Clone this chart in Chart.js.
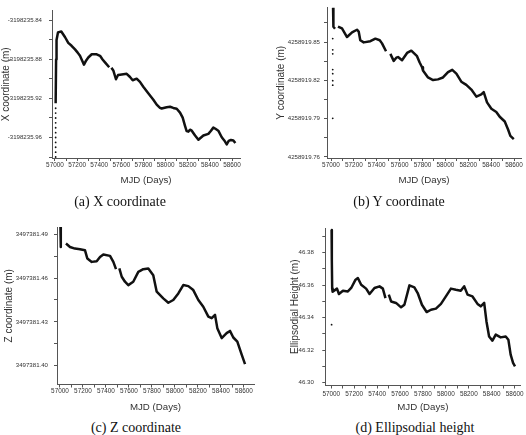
<!DOCTYPE html>
<html>
<head>
<meta charset="utf-8">
<title>GNSS station coordinates</title>
<script src="https://cdn.jsdelivr.net/npm/chart.js@4.4.0/dist/chart.umd.min.js"></script>
<style>
  html, body { margin: 0; padding: 0; background: #fff; }
  body { width: 526px; height: 435px; position: relative; overflow: hidden; }
  canvas { position: absolute; }
  .caption {
    position: absolute;
    font-family: 'Liberation Serif', 'Times New Roman', serif;
    font-size: 14px;
    color: #111;
    white-space: nowrap;
    transform: translate(-50%, -50%);
  }
</style>
</head>
<body>
<canvas id="chartX" width="263" height="195" style="left:0;top:0"></canvas>
<canvas id="chartY" width="263" height="195" style="left:263px;top:0"></canvas>
<canvas id="chartZ" width="263" height="200" style="left:0;top:215px"></canvas>
<canvas id="chartH" width="263" height="200" style="left:263px;top:215px"></canvas>
<div class="caption" style="left:120px;top:202px">(a) X coordinate</div>
<div class="caption" style="left:399px;top:202px">(b) Y coordinate</div>
<div class="caption" style="left:136px;top:428px">(c) Z coordinate</div>
<div class="caption" style="left:415px;top:428px">(d) Ellipsodial height</div>

<script>
// MJD axis, shared by all four panels
const mjdTicks = [57000, 57100, 57200, 57300, 57400, 57500, 57600, 57700, 57800,
  57900, 58000, 58100, 58200, 58300, 58400, 58500, 58600];
const mjdLabels = [57000, 57200, 57400, 57600, 57800, 58000, 58200, 58400, 58600];

// (a) X coordinate (m)
const xTicks = [-3198235.84, -3198235.86, -3198235.88, -3198235.90, -3198235.92,
  -3198235.94, -3198235.96, -3198235.98];
const xLabels = [-3198235.84, -3198235.88, -3198235.92, -3198235.96];
const xDays = [57006, 57010, 57014, 57027, 57057, 57090, 57120, 57150, 57181, 57205,
  57226, 57245, 57262, 57282, 57301, 57332, 57377, 57407, 57430, 57452, 57490, 57500,
  57510, 57527, 57551, 57570, 57588, 57648, 57678, 57702, 57738, 57768, 57798, 57843,
  57889, 57919, 57949, 57964, 58009, 58040, 58069, 58100, 58130, 58154, 58175, 58190,
  58205, 58220, 58236, 58266, 58296, 58320, 58341, 58386, 58410, 58431, 58450, 58476,
  58507, 58530, 58552, 58570, 58590, 58612, 58630];
const xValues = [-3198235.925, -3198235.880, -3198235.860, -3198235.8523, -3198235.8513,
  -3198235.857, -3198235.863, -3198235.866, -3198235.8697, -3198235.873, -3198235.8763,
  -3198235.881, -3198235.8853, -3198235.881, -3198235.878, -3198235.8747, -3198235.8747,
  -3198235.8763, -3198235.880, -3198235.883, -3198235.888, null,
  -3198235.8885, -3198235.8913, -3198235.9003, -3198235.896, -3198235.8957, -3198235.8947,
  -3198235.898, -3198235.9013, -3198235.8997, -3198235.903, -3198235.908, -3198235.9147,
  -3198235.9213, -3198235.9263, -3198235.9297, -3198235.9303, -3198235.929, -3198235.9285,
  -3198235.9297, -3198235.9305, -3198235.9345, -3198235.9397, -3198235.948, -3198235.9535,
  -3198235.954, -3198235.952, -3198235.953, -3198235.958, -3198235.9623, -3198235.960,
  -3198235.958, -3198235.9563, -3198235.953, -3198235.9497, -3198235.951, -3198235.953,
  -3198235.9597, -3198235.963, -3198235.967, -3198235.9635, -3198235.9625, -3198235.963,
  -3198235.9657];
const xDotDays = [57006, 57006, 57006, 57006, 57006, 57006, 57006, 57006, 57006, 57006, 57006];
const xDotValues = [-3198235.930, -3198235.935, -3198235.940, -3198235.945, -3198235.950,
  -3198235.955, -3198235.960, -3198235.965, -3198235.970, -3198235.975, -3198235.980];

// (b) Y coordinate (m)
const yTicks = [4258919.85, 4258919.835, 4258919.82, 4258919.805, 4258919.79,
  4258919.775, 4258919.76, 4258919.865];
const yLabels = [4258919.85, 4258919.82, 4258919.79, 4258919.76];
const yDays = [57018, 57020, 57022, 57035, 57048, 57061, 57096, 57140, 57184, 57227,
  57242, 57256, 57286, 57344, 57388, 57426, 57446, 57481, 57500, 57519, 57548, 57571,
  57586, 57621, 57665, 57702, 57752, 57775, 57796, 57804, 57848, 57892, 57935, 57979,
  58023, 58060, 58096, 58139, 58183, 58227, 58271, 58314, 58335, 58364, 58402, 58445,
  58475, 58519, 58548, 58568, 58598];
const yValues = [4258919.877, 4258919.868, 4258919.862, 4258919.8605, null,
  4258919.8622, 4258919.8607, 4258919.854, 4258919.8577, 4258919.8597, 4258919.8583,
  4258919.8515, 4258919.8498, 4258919.8507, 4258919.8527, 4258919.8515, 4258919.849,
  4258919.8428, null, 4258919.8408, 4258919.8353, 4258919.8378, 4258919.8383,
  4258919.8358, 4258919.8415, 4258919.8433, 4258919.839, 4258919.834, 4258919.8303,
  4258919.8278, 4258919.8223, 4258919.8203, 4258919.8208, 4258919.8223, 4258919.8265,
  4258919.8283, 4258919.8253, 4258919.819, 4258919.8165, 4258919.8128, 4258919.8073,
  4258919.809, 4258919.8108, 4258919.8028, 4258919.7978, 4258919.7953, 4258919.7915,
  4258919.7878, 4258919.7815, 4258919.7765, 4258919.774];
const yDotDays = [57015, 57015, 57015, 57015, 57015, 57015, 57015, 57015];
const yDotValues = [4258919.8528, 4258919.844, 4258919.8408, 4258919.8285, 4258919.8253,
  4258919.8198, 4258919.8163, 4258919.7903];

// (c) Z coordinate (m)
const zTicks = [3497381.49, 3497381.475, 3497381.46, 3497381.445, 3497381.43,
  3497381.415, 3497381.40];
const zLabels = [3497381.49, 3497381.46, 3497381.43, 3497381.40];
const zDays = [57004, 57006, 57008, 57030, 57052, 57087, 57130, 57174, 57217, 57238,
  57276, 57319, 57348, 57377, 57435, 57464, 57487, 57500, 57516, 57537, 57565, 57594,
  57637, 57681, 57724, 57768, 57811, 57841, 57898, 57942, 57985, 58029, 58072, 58116,
  58159, 58203, 58246, 58290, 58319, 58348, 58368, 58406, 58449, 58478, 58507, 58542,
  58580, 58609];
const zValues = [3497381.495, 3497381.486, 3497381.4813, null, 3497381.4837,
  3497381.4813, 3497381.4802, 3497381.4798, 3497381.4791, 3497381.4734, 3497381.4711,
  3497381.4716, 3497381.4745, 3497381.4762, 3497381.4752, 3497381.4711, 3497381.4661,
  null, 3497381.4666, 3497381.4609, 3497381.4575, 3497381.4552, 3497381.4575,
  3497381.4643, 3497381.4661, 3497381.4666, 3497381.462, 3497381.4507, 3497381.4461,
  3497381.4431, 3497381.445, 3497381.4495, 3497381.4552, 3497381.4545, 3497381.4518,
  3497381.445, 3497381.4404, 3497381.4336, 3497381.4325, 3497381.4348, 3497381.4257,
  3497381.4189, 3497381.4223, 3497381.4238, 3497381.4193, 3497381.4165, 3497381.4075,
  3497381.4011];

// (d) Ellipsoidal height (m)
const hTicks = [46.39, 46.38, 46.37, 46.36, 46.35, 46.34, 46.33, 46.32, 46.31, 46.30];
const hLabels = [46.38, 46.36, 46.34, 46.32, 46.30];
const hDays = [57003, 57005, 57008, 57012, 57050, 57067, 57102, 57145, 57174, 57212,
  57232, 57261, 57304, 57334, 57377, 57421, 57450, 57473, 57490, 57502, 57522, 57565,
  57609, 57638, 57682, 57725, 57754, 57791, 57832, 57870, 57913, 57957, 58000, 58044,
  58087, 58130, 58160, 58189, 58232, 58276, 58304, 58334, 58354, 58377, 58406, 58435,
  58478, 58522, 58545, 58565, 58586, 58603];
const hValues = [46.394, 46.375, 46.358, 46.356, 46.3579, 46.3546, 46.3566, 46.3562,
  46.3583, 46.3634, 46.3644, 46.3603, 46.3579, 46.3546, 46.3583, 46.3593, 46.3579,
  46.3521, null, 46.3542, 46.35, 46.3491, 46.3464, 46.348, 46.3599, 46.3587, 46.3552,
  46.348, 46.3435, 46.3449, 46.3456, 46.3485, 46.3531, 46.3579, 46.3572, 46.3566,
  46.3593, 46.3542, 46.3531, 46.3485, 46.347, 46.3491, 46.3377, 46.3285, 46.3259,
  46.3296, 46.3279, 46.3285, 46.3265, 46.3173, 46.3122, 46.3101];
const hDotDays = [57003];
const hDotValues = [46.3357];

const LINE_COLOR = '#111';
const AXIS_COLOR = '#555';
const TEXT_COLOR = '#333';
const NARROW = "'Liberation Sans Narrow', 'Liberation Sans', Arial, sans-serif";
const SANS = "'Liberation Sans', Arial, sans-serif";

function toPoints(days, values) {
  return days.map((d, i) => ({ x: d, y: values[i] }));
}

function isLabel(list, value) {
  return list.some((v) => Math.abs(v - value) < 1e-6);
}

function buildPanel(canvasId, p) {
  const ctx = document.getElementById(canvasId).getContext('2d');

  return new Chart(ctx, {
    type: 'line',
    data: {
      datasets: [
        {
          data: toPoints(p.days, p.values),
          borderColor: LINE_COLOR,
          borderWidth: 2.5,
          borderJoinStyle: 'round',
          pointRadius: 0,
          tension: 0,
          spanGaps: false
        },
        {
          data: toPoints(p.dotDays || [], p.dotValues || []),
          showLine: false,
          pointRadius: 0.9,
          pointBorderWidth: 0,
          pointBackgroundColor: LINE_COLOR
        }
      ]
    },
    options: {
      responsive: false,
      animation: false,
      devicePixelRatio: 1,
      layout: { padding: p.padding },
      plugins: {
        legend: { display: false },
        tooltip: { enabled: false }
      },
      scales: {
        x: {
          type: 'linear',
          min: p.xMin,
          max: p.xMax,
          afterBuildTicks: (scale) => {
            scale.ticks = mjdTicks.map((v) => ({ value: v }));
          },
          afterFit: (scale) => {
            scale.height = p.xHeight;
          },
          ticks: {
            autoSkip: false,
            maxRotation: 0,
            padding: p.xTickPad,
            color: TEXT_COLOR,
            font: { family: NARROW, size: 6.4 },
            callback: (v) => (mjdLabels.includes(v) ? String(v) : '')
          },
          grid: { drawOnChartArea: false, tickLength: 3, color: AXIS_COLOR },
          border: { color: AXIS_COLOR, width: 1 },
          title: {
            display: true,
            text: 'MJD (Days)',
            color: TEXT_COLOR,
            font: { family: NARROW, size: 9.7 },
            padding: { top: 0, bottom: p.xTitlePad }
          }
        },
        y: {
          type: 'linear',
          min: p.yMin,
          max: p.yMax,
          afterBuildTicks: (scale) => {
            scale.ticks = p.yTicks.map((v) => ({ value: v }));
          },
          afterFit: (scale) => {
            scale.width = p.yWidth;
          },
          ticks: {
            autoSkip: false,
            padding: p.yTickPad,
            color: TEXT_COLOR,
            font: { family: NARROW, size: 6.1 },
            callback: (v) => (isLabel(p.yLabels, v) ? v.toFixed(2) : '')
          },
          grid: { drawOnChartArea: false, tickLength: 3, color: AXIS_COLOR },
          border: { color: AXIS_COLOR, width: 1 },
          title: {
            display: true,
            text: p.yTitle,
            color: TEXT_COLOR,
            font: { family: SANS, size: 10 },
            padding: { top: p.yTitlePad, bottom: 0 }
          }
        }
      }
    }
  });
}

buildPanel('chartX', {
  days: xDays, values: xValues, dotDays: xDotDays, dotValues: xDotValues,
  yTicks: xTicks, yLabels: xLabels, yTitle: 'X coordinate (m)',
  xMin: 56973, xMax: 58672, yMin: -3198235.981, yMax: -3198235.830,
  padding: { left: 0, top: 7, right: 23, bottom: 0 },
  yWidth: 52, xHeight: 37, yTickPad: 7, xTickPad: 0.5, xTitlePad: 9, yTitlePad: 0
});

buildPanel('chartY', {
  days: yDays, values: yValues, dotDays: yDotDays, dotValues: yDotValues,
  yTicks: yTicks, yLabels: yLabels, yTitle: 'Y coordinate (m)',
  xMin: 56965, xMax: 58661, yMin: 4258919.7592, yMax: 4258919.877,
  padding: { left: 0, top: 1, right: 5, bottom: 0 },
  yWidth: 64, xHeight: 37, yTickPad: 4, xTickPad: 0.5, xTitlePad: 9, yTitlePad: 12.7
});

buildPanel('chartZ', {
  days: zDays, values: zValues,
  yTicks: zTicks, yLabels: zLabels, yTitle: 'Z coordinate (m)',
  xMin: 56974, xMax: 58687, yMin: 3497381.3871, yMax: 3497381.495,
  padding: { left: 0, top: 12, right: 9, bottom: 0 },
  yWidth: 57, xHeight: 30.5, yTickPad: 6, xTickPad: 0, xTitlePad: 1.5, yTitlePad: 3.7
});

buildPanel('chartH', {
  days: hDays, values: hValues, dotDays: hDotDays, dotValues: hDotValues,
  yTicks: hTicks, yLabels: hLabels, yTitle: 'Ellipsodial Height (m)',
  xMin: 56948, xMax: 58650, yMin: 46.2983, yMax: 46.3952,
  padding: { left: 0, top: 13, right: 5, bottom: 0 },
  yWidth: 62.3, xHeight: 29.5, yTickPad: 8.5, xTickPad: 2.3, xTitlePad: 1.5, yTitlePad: 26.2
});
</script>
</body>
</html>
